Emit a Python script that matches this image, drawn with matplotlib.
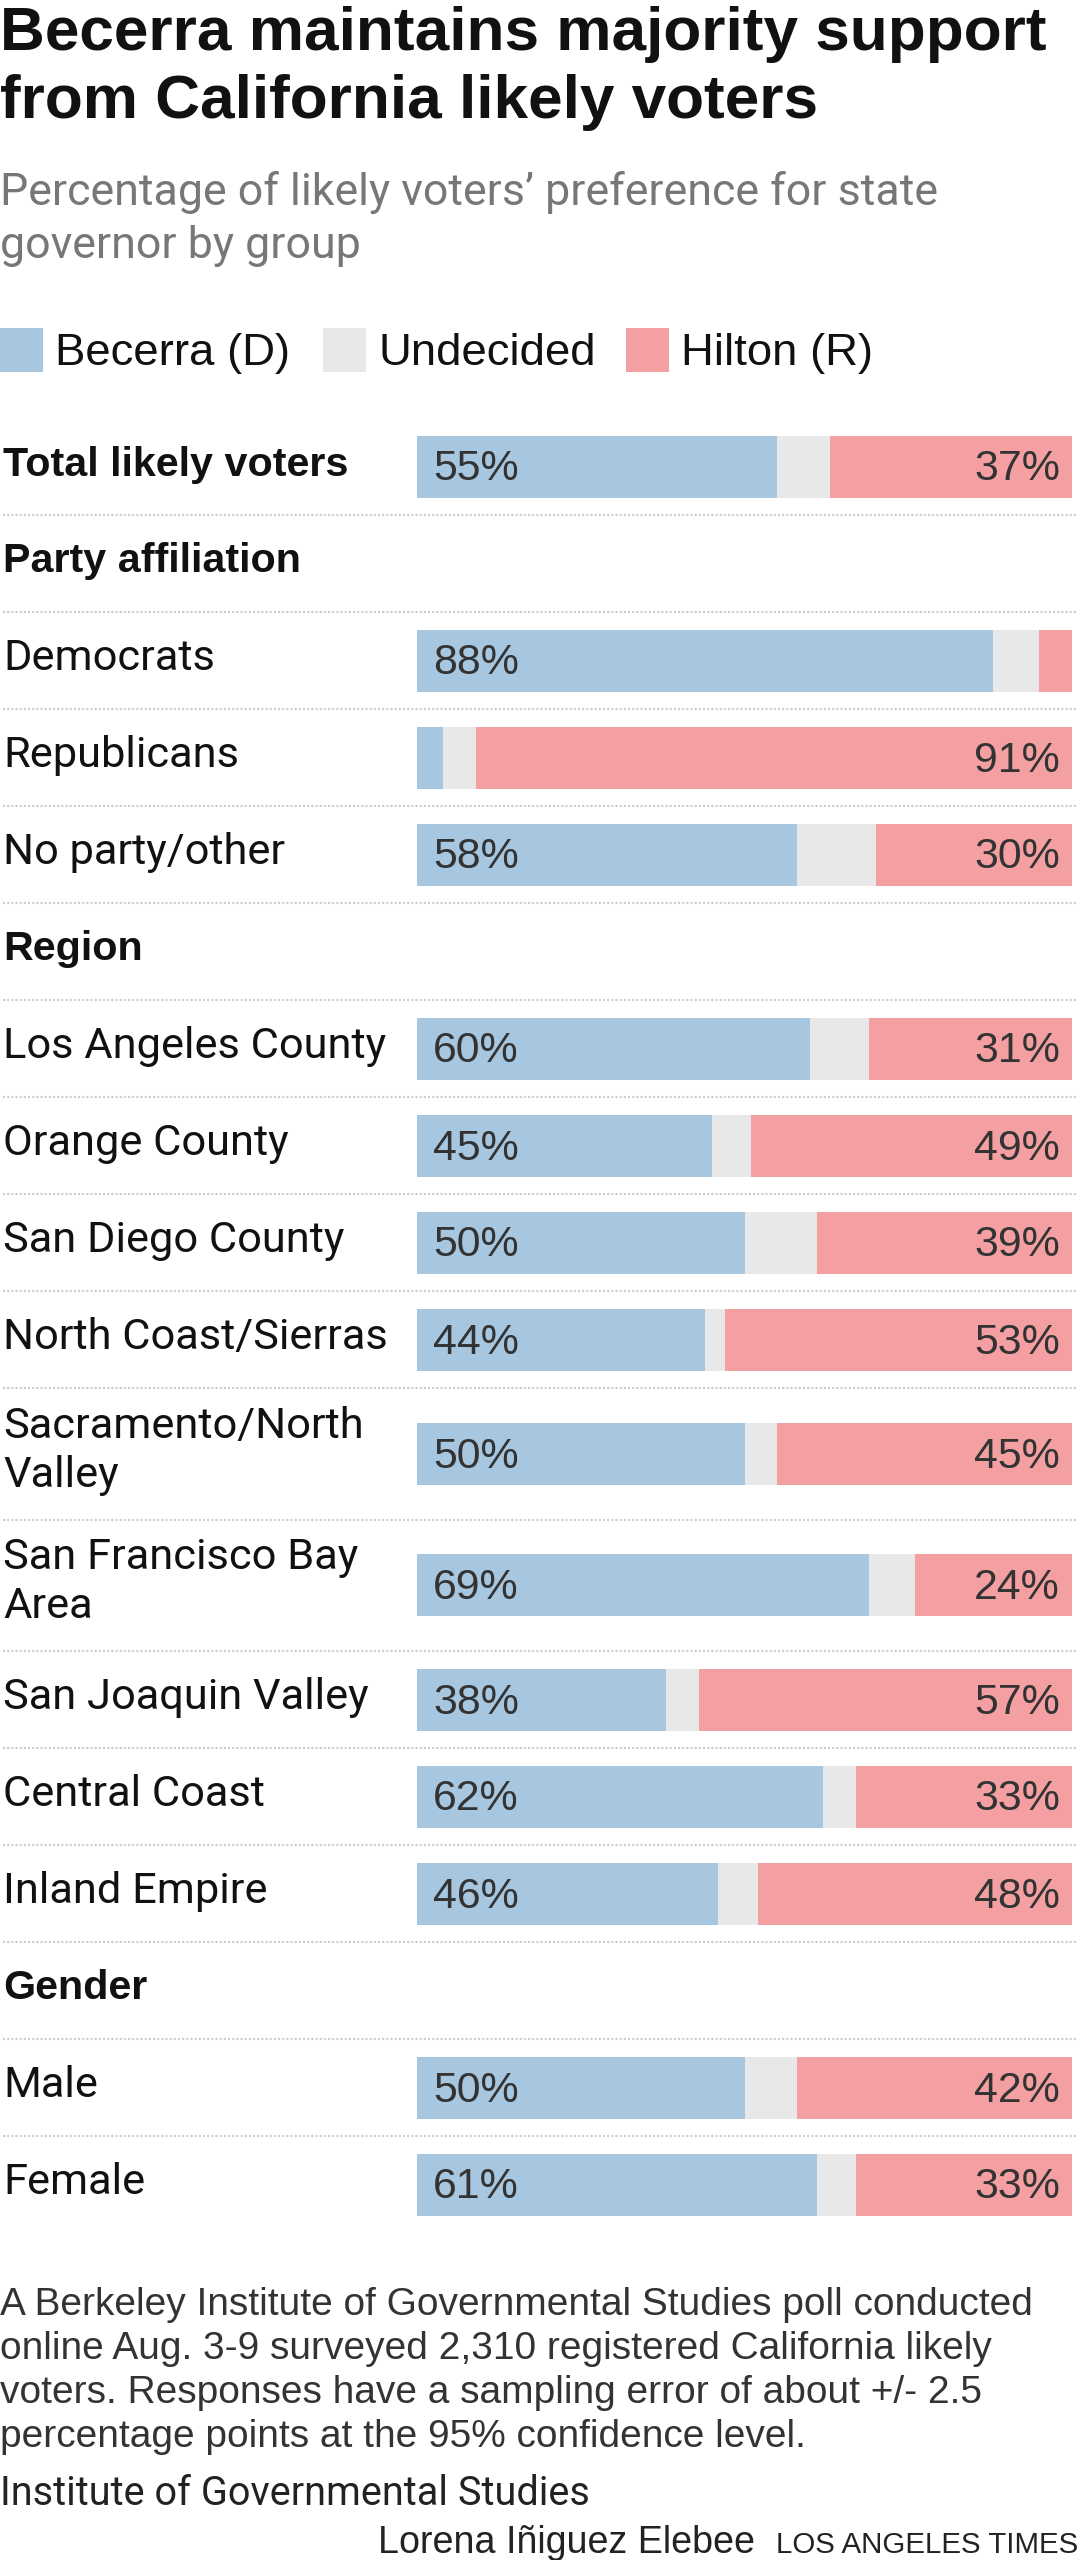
import matplotlib
matplotlib.use("Agg")
import matplotlib.pyplot as plt
from matplotlib import font_manager as fm

# ---------------- data ----------------
series_names = ["Becerra (D)", "Undecided", "Hilton (R)"]
categories = ["Total likely voters", "Democrats", "Republicans", "No party/other",
              "Los Angeles County", "Orange County", "San Diego County",
              "North Coast/Sierras", "Sacramento/North\nValley",
              "San Francisco Bay\nArea", "San Joaquin Valley", "Central Coast",
              "Inland Empire", "Male", "Female"]
category_section = [None, "Party affiliation", "Party affiliation", "Party affiliation",
                    "Region", "Region", "Region", "Region", "Region", "Region",
                    "Region", "Region", "Region", "Gender", "Gender"]
becerra = [55, 88, 4, 58, 60, 45, 50, 44, 50, 69, 38, 62, 46, 50, 61]
undecided = [8, 7, 5, 12, 9, 6, 11, 3, 5, 7, 5, 5, 6, 8, 6]
hilton = [37, 5, 91, 30, 31, 49, 39, 53, 45, 24, 57, 33, 48, 42, 33]

title_lines = ["Becerra maintains majority support", "from California likely voters"]
subtitle_lines = ["Percentage of likely voters\u2019 preference for state", "governor by group"]
note_lines = ["A Berkeley Institute of Governmental Studies poll conducted",
              "online Aug. 3-9 surveyed 2,310 registered California likely",
              "voters. Responses have a sampling error of about +/- 2.5",
              "percentage points at the 95% confidence level."]
source_text = "Institute of Governmental Studies"
credit_text = "Lorena I\u00f1iguez Elebee"
brand_text = "LOS ANGELES TIMES"

# ---------------- style ----------------
C_BLUE = "#a7c7e0"
C_GRAY = "#e8e8e8"
C_RED = "#f4a0a3"
colors = [C_BLUE, C_GRAY, C_RED]

W, H = 1080, 2560
fig = plt.figure(figsize=(W / 100, H / 100), dpi=100)
fig.patch.set_facecolor("white")

BX0, BX1 = 417, 1072
bx = fig.add_axes([BX0 / W, 0, (BX1 - BX0) / W, 1])
bx.set_xlim(0, 100)
bx.set_ylim(H, 0)
bx.axis("off")

ov = fig.add_axes([0, 0, 1, 1])
ov.set_xlim(0, W)
ov.set_ylim(H, 0)
ov.axis("off")
ov.set_zorder(5)
ov.patch.set_alpha(0)

avail = {f.name for f in fm.fontManager.ttflist}
cands = [c for c in ["Roboto", "Roboto Condensed", "Liberation Sans Narrow", "Liberation Sans"]
         if c in avail] or ["DejaVu Sans"]

renderer = fig.canvas.get_renderer()

def width_of(sample, fam, pt, weight):
    t = ov.text(0, 0, sample, fontsize=pt, fontweight=weight, family=fam)
    w = t.get_window_extent(renderer).width
    t.remove()
    return w

def style_for(sample, target_w, pt, weight="normal"):
    best = None
    for fam in cands:
        w = width_of(sample, fam, pt, weight)
        r = target_w / w
        score = abs(1 - r)
        if best is None or score < best[0]:
            best = (score, fam, pt * max(0.85, min(1.15, r)))
    return {"family": best[1], "fontsize": best[2], "fontweight": weight}

def txt(x, y, s, st, color="#111111", ha="left"):
    ov.text(x, y, s, color=color, ha=ha, va="baseline", **st)

# text classes (pt at 100 dpi: pt = px*0.72)
ST_TITLE = style_for(title_lines[0], 1048, 43, "bold")
ST_SUB = style_for(subtitle_lines[0], 969, 28)
ST_LEG = style_for("Becerra (D)", 235, 30)
ST_LAB = style_for("North Coast/Sierras", 386, 28.5)
ST_HEAD = style_for("Total likely voters", 345, 28.5, "bold")
ST_PCT = style_for("88%", 86, 28.5)
ST_NOTE = style_for(note_lines[0], 1034, 25.5)
ST_SRC = style_for(source_text, 588, 25.5)
ST_CRED = style_for(credit_text, 376, 25.5)
ST_BRAND = style_for(brand_text, 302, 21)

# ---------------- title / subtitle ----------------
txt(0, 50, title_lines[0], ST_TITLE, "#111111")
txt(0, 118, title_lines[1], ST_TITLE, "#111111")
txt(0, 205, subtitle_lines[0], ST_SUB, "#777777")
txt(0, 258, subtitle_lines[1], ST_SUB, "#777777")

# ---------------- legend ----------------
leg_x = [0, 323, 626]
for i, name in enumerate(series_names):
    ov.add_patch(plt.Rectangle((leg_x[i], 328), 43, 44, facecolor=colors[i], edgecolor="none"))
    txt(leg_x[i] + 55, 365, name, ST_LEG, "#111111")

# ---------------- rows ----------------
SLOT = 97
SLOT2 = 131.5
BAR_H = 62
y = 418
prev_section = None
tops, heights, line_ys = [], [], []
for i, cat in enumerate(categories):
    sec = category_section[i]
    if i > 0:
        line_ys.append(y)
    if sec is not None and sec != prev_section:
        txt(3, y + 57, sec, ST_HEAD, "#111111")
        y += SLOT
        line_ys.append(y)
    prev_section = sec
    h = SLOT2 if "\n" in cat else SLOT
    tops.append(y)
    heights.append(h)
    y += h

for ly in sorted(set(line_ys)):
    ov.plot([3, 1077], [ly, ly], color="#cdcdcd", lw=1.5, linestyle=(0, (1.0, 1.0)),
            dash_capstyle="butt")

centers = [t + h / 2 for t, h in zip(tops, heights)]
lefts = [0.0] * len(categories)
for vals, col in zip([becerra, undecided, hilton], colors):
    bx.barh(centers, vals, left=lefts, height=BAR_H, color=col, edgecolor="none")
    lefts = [l + v for l, v in zip(lefts, vals)]

for i, cat in enumerate(categories):
    c = centers[i]
    st = ST_HEAD if i == 0 else ST_LAB
    lines = cat.split("\n")
    if len(lines) == 1:
        txt(3, c + 9.5, cat, st, "#111111")
    else:
        txt(3, tops[i] + 50, lines[0], st, "#111111")
        txt(3, tops[i] + 99, lines[1], st, "#111111")
    if becerra[i] >= 10:
        txt(433, c + 14, f"{becerra[i]}%", ST_PCT, "#333333")
    if hilton[i] >= 10:
        txt(1060, c + 14, f"{hilton[i]}%", ST_PCT, "#333333", ha="right")

# ---------------- footer ----------------
for k, line in enumerate(note_lines):
    txt(0, 2315 + 44 * k, line, ST_NOTE, "#333333")
txt(0, 2505, source_text, ST_SRC, "#222222")
txt(1078, 2553, brand_text, ST_BRAND, "#222222", ha="right")
txt(755, 2553, credit_text, ST_CRED, "#222222", ha="right")

fig.savefig("out.png", dpi=100, facecolor="white")
